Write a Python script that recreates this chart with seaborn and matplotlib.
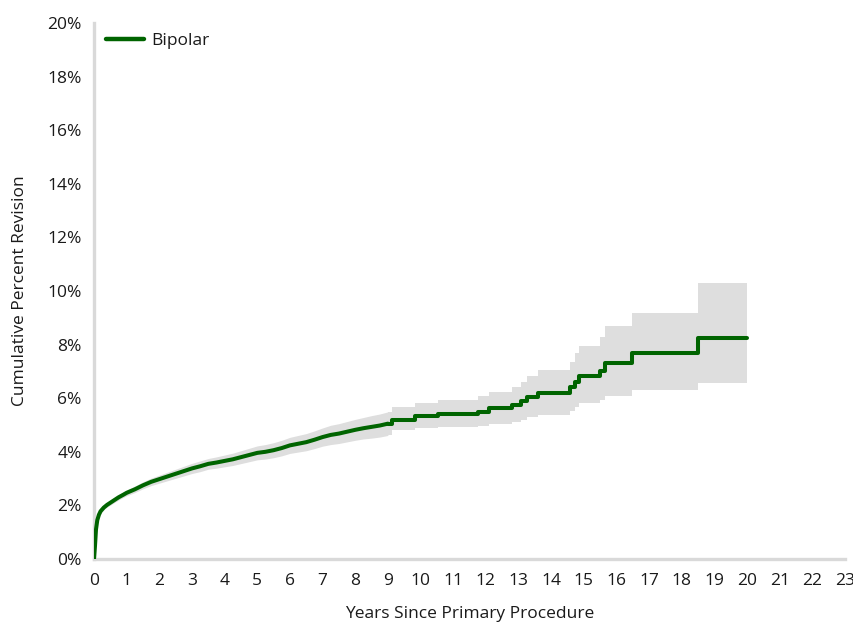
import numpy as np
import pandas as pd
import matplotlib
matplotlib.use("Agg")
import matplotlib.pyplot as plt
import seaborn as sns

# ---- data ----
years = [0, 0.03, 0.06, 0.1, 0.15, 0.2, 0.3, 0.4, 0.5, 0.6,
         0.75, 0.9, 1.0, 1.25, 1.5, 1.75, 2.0, 2.25, 2.5, 2.75,
         3.0, 3.25, 3.5, 3.75, 4.0, 4.25, 4.5, 4.75, 5.0, 5.25,
         5.5, 5.75, 6.0, 6.25, 6.5, 6.75, 7.0, 7.25, 7.5, 7.75,
         8.0, 8.25, 8.5, 8.75, 9.0, 9.12, 9.83, 10.53, 11.77, 12.1,
         12.79, 13.09, 13.25, 13.6, 14.57, 14.73, 14.86, 15.5, 15.65, 16.49,
         18.5, 20.0]
cum_revision = [0, 0.5, 1.1, 1.45, 1.65, 1.78, 1.92, 2.02, 2.1, 2.18,
                2.3, 2.4, 2.47, 2.6, 2.75, 2.88, 2.98, 3.08, 3.18, 3.28,
                3.38, 3.46, 3.55, 3.6, 3.66, 3.72, 3.8, 3.88, 3.96, 4.0,
                4.06, 4.14, 4.24, 4.3, 4.36, 4.45, 4.55, 4.63, 4.68, 4.75,
                4.82, 4.88, 4.93, 4.98, 5.05, 5.2, 5.34, 5.41, 5.5, 5.62,
                5.75, 5.91, 6.06, 6.18, 6.4, 6.59, 6.82, 7.03, 7.3, 7.68,
                8.24, 8.24]
ci_lower = [0, 0.46, 1.04, 1.38, 1.58, 1.70, 1.84, 1.94, 2.01, 2.09,
            2.2, 2.3, 2.36, 2.48, 2.62, 2.74, 2.83, 2.92, 3.01, 3.10,
            3.19, 3.26, 3.35, 3.39, 3.44, 3.49, 3.56, 3.63, 3.70, 3.73,
            3.78, 3.85, 3.94, 3.99, 4.04, 4.12, 4.21, 4.27, 4.31, 4.37,
            4.43, 4.48, 4.51, 4.55, 4.61, 4.8, 4.88, 4.94, 4.96, 5.03,
            5.12, 5.19, 5.31, 5.37, 5.53, 5.66, 5.81, 5.93, 6.08, 6.31,
            6.56, 6.56]
ci_upper = [0, 0.54, 1.16, 1.52, 1.72, 1.86, 2.00, 2.10, 2.19, 2.27,
            2.4, 2.5, 2.58, 2.72, 2.88, 3.02, 3.13, 3.24, 3.35, 3.46,
            3.57, 3.66, 3.75, 3.81, 3.88, 3.95, 4.04, 4.13, 4.22, 4.27,
            4.34, 4.43, 4.54, 4.61, 4.68, 4.78, 4.89, 4.99, 5.05, 5.13,
            5.21, 5.28, 5.35, 5.41, 5.49, 5.68, 5.83, 5.93, 6.08, 6.24,
            6.41, 6.62, 6.83, 7.05, 7.36, 7.67, 7.95, 8.3, 8.71, 9.19,
            10.29, 10.29]
series_name = "Bipolar"
x_ticks = list(range(0, 24))
y_ticks = list(range(0, 21, 2))

df = pd.DataFrame({"Years": years, "Revision": cum_revision,
                   "Lower": ci_lower, "Upper": ci_upper, "Prosthesis": series_name})
# the dense early part (many small events) renders as a near-smooth curve,
# the sparse later part as visible steps
split = 9.0
early = df[df["Years"] <= split]
late = df[df["Years"] >= split]

sns.set_theme(style="white")
plt.rcParams["font.family"] = ["Open Sans", "DejaVu Sans"]

fig = plt.figure(figsize=(8.54, 6.25), dpi=100)
ax = fig.add_axes([0.1101, 0.1056, 0.8794, 0.8576])

text_col = "#1a1a1a"
spine_col = "#d9d9d9"
green = "#006400"
band = "#dedede"

ax.fill_between(early["Years"], early["Lower"], early["Upper"], color=band, linewidth=0, zorder=1)
ax.fill_between(late["Years"], late["Lower"], late["Upper"], step="post", color=band, linewidth=0, zorder=1)
sns.lineplot(data=early, x="Years", y="Revision", hue="Prosthesis", palette=[green],
             estimator=None, linewidth=2.9, ax=ax, zorder=3,
             solid_capstyle="round", solid_joinstyle="round")
sns.lineplot(data=late, x="Years", y="Revision", hue="Prosthesis", palette=[green],
             estimator=None, drawstyle="steps-post", linewidth=2.9, ax=ax, zorder=3,
             solid_capstyle="round", legend=False)

ax.set_xlim(0, 23)
ax.set_ylim(0, 20)
ax.set_xticks(x_ticks)
ax.set_xticklabels([str(v) for v in x_ticks])
ax.set_yticks(y_ticks)
ax.set_yticklabels([f"{v}%" for v in y_ticks])

for s in ["top", "right"]:
    ax.spines[s].set_visible(False)
for s in ["left", "bottom"]:
    ax.spines[s].set_color(spine_col)
    ax.spines[s].set_linewidth(2.4)
    ax.spines[s].set_zorder(0)

ax.tick_params(axis="both", which="major", direction="out", length=4, width=0.8,
               color="#c8c8c8", labelsize=12.5, labelcolor=text_col, pad=5)
ax.tick_params(axis="x", pad=6)

ax.set_xlabel("Years Since Primary Procedure", fontsize=12.5, color=text_col, labelpad=12)
ax.set_ylabel("Cumulative Percent Revision", fontsize=12.5, color=text_col, labelpad=14)

leg = ax.legend(loc="upper left", bbox_to_anchor=(0.0, 1.005), frameon=False,
                fontsize=12.5, handlelength=2.2, handletextpad=0.4, borderaxespad=0.3)
for t in leg.get_texts():
    t.set_color(text_col)
for h in leg.get_lines():
    h.set_linewidth(3.2)

fig.savefig("out.png", dpi=100, facecolor="white")
